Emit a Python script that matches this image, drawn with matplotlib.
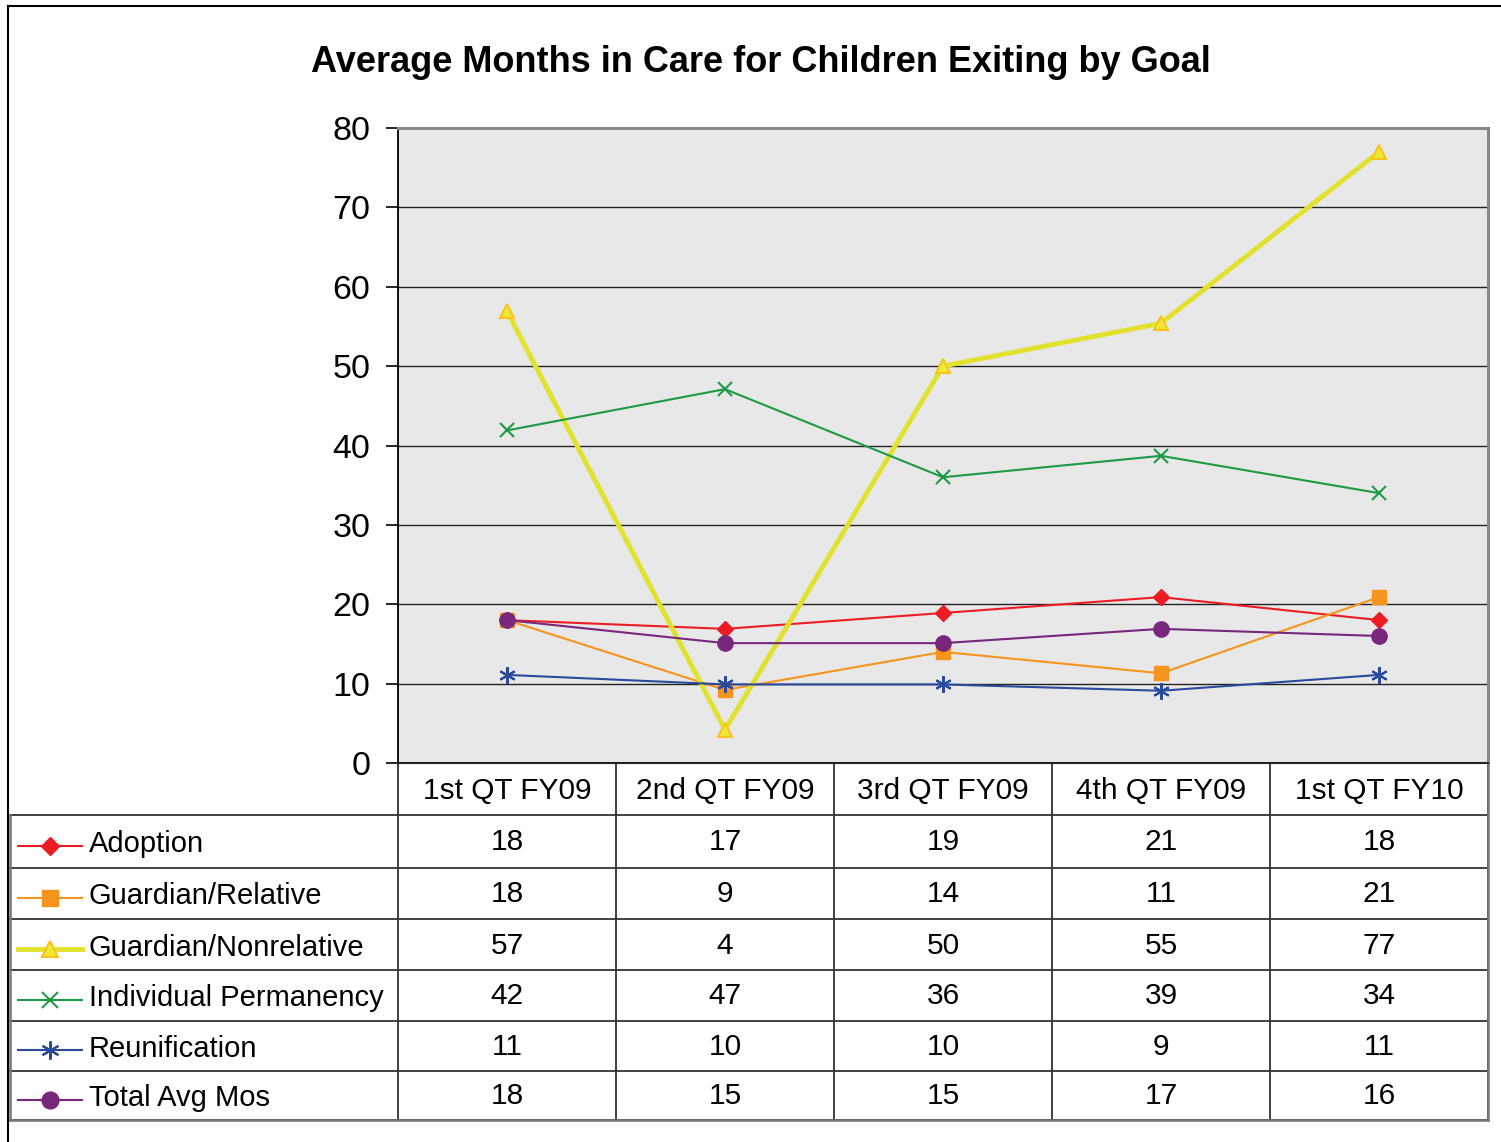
import matplotlib.pyplot as plt
from matplotlib.lines import Line2D

plt.rcParams['font.family'] = ['Liberation Sans', 'DejaVu Sans']

# data (plotted values are not rounded, table shows rounded ones)
quarters = ['1st QT FY09', '2nd QT FY09', '3rd QT FY09', '4th QT FY09', '1st QT FY10']
series_names = ['Adoption', 'Guardian/Relative', 'Guardian/Nonrelative',
                'Individual Permanency', 'Reunification', 'Total Avg Mos']
adoption = [18.0, 16.9, 18.9, 20.9, 18.0]
guardian_relative = [18.0, 9.2, 14.0, 11.3, 20.9]
guardian_nonrelative = [56.9, 4.2, 50.0, 55.4, 77.0]
individual_permanency = [41.9, 47.1, 36.0, 38.7, 34.0]
reunification = [11.1, 9.9, 9.9, 9.1, 11.1]
total_avg = [18.0, 15.1, 15.1, 16.9, 16.0]
yticks = [0, 10, 20, 30, 40, 50, 60, 70, 80]

series = [adoption, guardian_relative, guardian_nonrelative,
          individual_permanency, reunification, total_avg]
styles = [
    dict(color='#ED1C24', lw=1.5, marker='D', ms=8, mfc='#ED1C24', mec='#ED1C24'),
    dict(color='#F7941D', lw=1.5, marker='s', ms=10, mfc='#F7941D', mec='#F7941D'),
    dict(color='#E2E22E', lw=3.5, marker='^', ms=10, mfc='#ECE83A', mec='#F9C31B', mew=1.5),
    dict(color='#1E9A46', lw=1.5, marker='x', ms=10, mfc='#1E9A46', mec='#1E9A46', mew=1.5),
    dict(color='#2A4A9E', lw=1.5, marker=(6, 2, 0), ms=12, mfc='#2A4A9E', mec='#2A4A9E', mew=1.5),
    dict(color='#77287C', lw=1.5, marker='o', ms=11, mfc='#77287C', mec='#77287C'),
]

W, H = 1501, 1142
fig = plt.figure(figsize=(W / 100, H / 100), dpi=100)

# pixel layout
px_left, px_right, px_top, px_bottom = 398, 1488, 128, 763
tab_left = 10
row_edges = [763, 815, 868, 919, 970, 1021, 1071, 1120]
col_edges = [398, 616, 834, 1052, 1270, 1488]
fs_tab = 21.5

# overlay axes in pixel coordinates for frame and table
ov = fig.add_axes([0, 0, 1, 1])
ov.set_xlim(0, W)
ov.set_ylim(H, 0)
ov.axis('off')

ax = fig.add_axes([px_left / W, 1 - px_bottom / H, (px_right - px_left) / W,
                   (px_bottom - px_top) / H])
ax.set_facecolor('#E8E8E8')
for i, vals in enumerate(series):
    ax.plot(range(len(quarters)), vals, label=series_names[i], zorder=3, **styles[i])
ax.set_xlim(-0.5, len(quarters) - 0.5)
ax.set_ylim(0, 80)
ax.set_yticks(yticks)
ax.set_xticks([])
ax.tick_params(axis='y', direction='out', length=9, width=1.2, labelsize=24.5, pad=11)
for y in yticks[1:-1]:
    ax.axhline(y, color='#222222', lw=1.0, zorder=1)
ax.spines['left'].set_color('#000000')
ax.spines['left'].set_linewidth(1.3)
for s in ['top', 'right']:
    ax.spines[s].set_color('#888888')
    ax.spines[s].set_linewidth(2.2)
ax.spines['bottom'].set_color('#222222')
ax.spines['bottom'].set_linewidth(1.5)

fig.text(761 / W, 1 - 63 / H, 'Average Months in Care for Children Exiting by Goal',
         ha='center', va='center', fontsize=26, fontweight='bold')

# outer frame (top and left only visible)
ov.plot([8, 8], [6, H], color='#000000', lw=1.5)
ov.plot([8, W], [6, 6], color='#000000', lw=1.5)

# table grid
lc = '#333333'
for y in row_edges[1:]:
    ov.plot([tab_left, col_edges[-1]], [y, y], color=lc, lw=1.3)
for x in col_edges:
    ov.plot([x, x], [row_edges[0], row_edges[-1]], color=lc, lw=1.3)
ov.plot([tab_left, tab_left], [row_edges[1], row_edges[-1]], color='#777777', lw=1.8)
ov.plot([col_edges[-1], col_edges[-1]], [row_edges[0], row_edges[-1]], color='#777777', lw=1.8)
ov.plot([tab_left, col_edges[-1]], [row_edges[-1], row_edges[-1]], color='#777777', lw=1.8)

# header row
for j, q in enumerate(quarters):
    xc = (col_edges[j] + col_edges[j + 1]) / 2
    ov.text(xc, (row_edges[0] + row_edges[1]) / 2 + 2, q, ha='center', va='center', fontsize=fs_tab)

# data rows with legend keys
for i, vals in enumerate(series):
    yc = (row_edges[i + 1] + row_edges[i + 2]) / 2 + 2
    st = styles[i]
    ov.add_line(Line2D([18, 82], [yc + 2, yc + 2], color=st['color'], lw=st['lw']))
    ov.add_line(Line2D([50], [yc + 2], linestyle='none', marker=st['marker'],
                       ms=st['ms'] * 1.1, mfc=st['mfc'], mec=st['mec'], mew=st.get('mew', 1)))
    ov.text(89, yc + 1, series_names[i], ha='left', va='center', fontsize=21)
    for j, v in enumerate(vals):
        xc = (col_edges[j] + col_edges[j + 1]) / 2
        ov.text(xc, yc - 1, f'{v:.0f}', ha='center', va='center', fontsize=fs_tab)

fig.savefig('out.png', dpi=100)
